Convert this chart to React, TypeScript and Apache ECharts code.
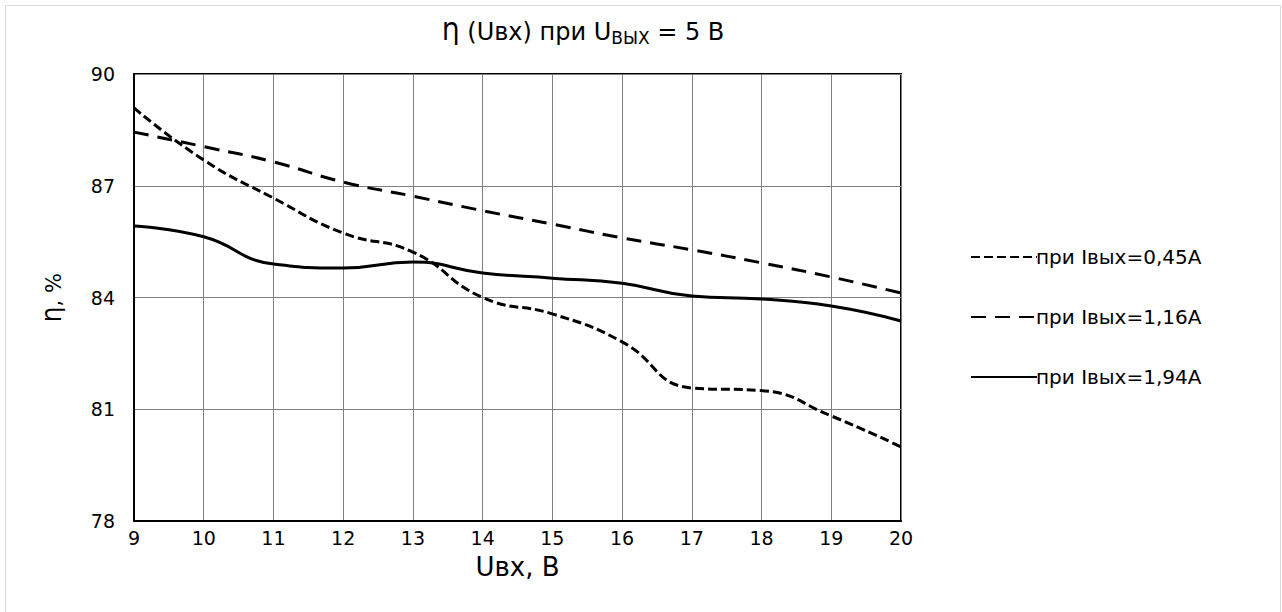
import React, { useEffect, useRef } from "react";
import * as echarts from "echarts";

const xValues = [9, 10, 11, 12, 13, 14, 15, 16, 17, 18, 19, 20];
const s045 = [89.09, 87.69, 86.67, 85.73, 85.22, 84.0, 83.56, 82.81, 81.57, 81.5, 80.82, 79.99];
const s116 = [88.44, 88.05, 87.64, 87.1, 86.72, 86.33, 85.97, 85.6, 85.28, 84.93, 84.55, 84.12];
const s194 = [85.92, 85.63, 84.9, 84.79, 84.95, 84.66, 84.52, 84.38, 84.04, 83.96, 83.77, 83.37];
const seriesNames = ["при Iвых=0,45А", "при Iвых=1,16А", "при Iвых=1,94А"];

const FONT = "'DejaVu Sans', 'Liberation Sans', Arial, sans-serif";

export default function App() {
  const ref = useRef<HTMLDivElement>(null);
  useEffect(() => {
    if (!ref.current) return;
    const chart = echarts.init(ref.current, undefined, { renderer: "svg" });
    const toPairs = (arr: number[]) => arr.map((v, i) => [xValues[i], v]);
    const dashes = [[9, 4], [15, 9], undefined];
    const data = [s045, s116, s194];
    chart.setOption({
      animation: false,
      backgroundColor: "#fff",
      textStyle: { fontFamily: FONT },
      title: {
        text: "Ƞ (Uвх) при U{sub|ВЫХ} = 5 В",
        left: 437,
        top: 12,
        textStyle: {
          fontFamily: FONT,
          fontSize: 24,
          fontWeight: "normal",
          color: "#000",
          rich: {
            sub: { fontFamily: FONT, fontSize: 17, color: "#000", padding: [12, 0, 0, 0] },
          },
        },
      },
      graphic: [
        {
          type: "rect",
          shape: { x: 5.5, y: 5.5, width: 1275, height: 700 },
          style: { fill: "none", stroke: "#d9d9d9", lineWidth: 1 },
          silent: true,
        },
      ],
      legend: {
        orient: "vertical",
        left: 965,
        top: 241,
        itemWidth: 66,
        itemHeight: 22,
        itemGap: 38,
        itemStyle: { color: "transparent", borderWidth: 0, opacity: 0 },
        textStyle: {
          fontFamily: FONT,
          fontSize: 20,
          lineHeight: 22,
          color: "#000",
          padding: [0, 0, 0, -6],
        },
        data: seriesNames,
      },
      grid: {
        left: 134,
        right: 381,
        top: 74,
        bottom: 91,
        show: true,
        borderColor: "#000",
        borderWidth: 2,
      },
      xAxis: {
        type: "value",
        min: 9,
        max: 20,
        interval: 1,
        name: "Uвх, В",
        nameLocation: "middle",
        nameGap: 33,
        nameTextStyle: { fontFamily: FONT, fontSize: 26, color: "#000" },
        axisLine: { show: true, lineStyle: { color: "#000", width: 2 } },
        axisTick: { show: false },
        axisLabel: { fontFamily: FONT, fontSize: 19, color: "#000", margin: 7 },
        splitLine: { show: true, lineStyle: { color: "#808080", width: 1 } },
      },
      yAxis: {
        type: "value",
        min: 78,
        max: 90,
        interval: 3,
        name: "Ƞ, %",
        nameLocation: "middle",
        nameGap: 70,
        nameTextStyle: { fontFamily: FONT, fontSize: 21, color: "#000" },
        axisLine: { show: true, lineStyle: { color: "#000", width: 2 } },
        axisTick: { show: false },
        axisLabel: { fontFamily: FONT, fontSize: 19, color: "#000", margin: 19 },
        splitLine: { show: true, lineStyle: { color: "#808080", width: 1 } },
      },
      series: data.map((arr, i) => ({
        name: seriesNames[i],
        type: "line",
        data: toPairs(arr),
        smooth: 0.5,
        symbol: "none",
        color: "#000",
        lineStyle: {
          color: "#000",
          width: 3,
          type: dashes[i] ? dashes[i] : "solid",
        },
      })),
    });
    return () => chart.dispose();
  }, []);
  return (
    <div
      ref={ref}
      style={{ position: "absolute", left: 0, top: 0, width: 1282, height: 612 }}
    />
  );
}
